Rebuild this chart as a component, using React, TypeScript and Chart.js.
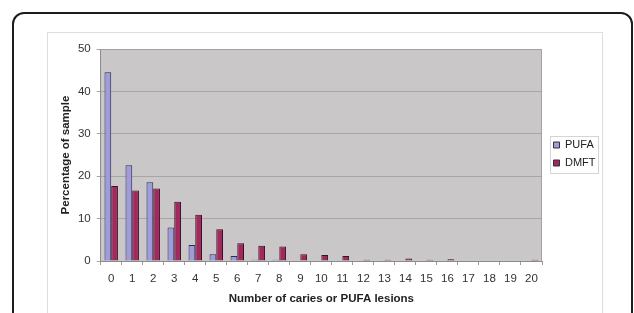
import React, { useEffect, useRef } from 'react';
import { Chart, registerables } from 'chart.js';

Chart.register(...registerables);

const categories = ['0', '1', '2', '3', '4', '5', '6', '7', '8', '9', '10', '11', '12', '13', '14', '15', '16', '17', '18', '19', '20'];
const pufaValues = [44.5, 22.6, 18.6, 7.9, 3.8, 1.6, 1.2, 0.3, 0.3, 0, 0, 0, 0, 0, 0, 0, 0, 0, 0, 0, 0];
const dmftValues = [17.7, 16.6, 17.1, 14.0, 10.9, 7.5, 4.2, 3.6, 3.4, 1.6, 1.4, 1.2, 0.3, 0.3, 0.6, 0.3, 0.4, 0, 0, 0, 0.3];
const seriesLabels = ['PUFA', 'DMFT'];
const yMin = 0;
const yMax = 50;
const yStep = 10;

const FONT = '"Liberation Sans", Arial, sans-serif';

const plotBgPlugin = {
  id: 'plotBg',
  beforeDraw(chart: any) {
    const { ctx, chartArea } = chart;
    if (!chartArea) return;
    ctx.save();
    ctx.fillStyle = '#c9c7c7';
    ctx.fillRect(chartArea.left, chartArea.top, chartArea.right - chartArea.left, chartArea.bottom - chartArea.top);
    ctx.restore();
  },
  afterDraw(chart: any) {
    const { ctx, chartArea } = chart;
    if (!chartArea) return;
    ctx.save();
    ctx.strokeStyle = '#a3a1a1';
    ctx.lineWidth = 1;
    ctx.beginPath();
    ctx.moveTo(chartArea.left, Math.round(chartArea.top) + 0.5);
    ctx.lineTo(chartArea.right, Math.round(chartArea.top) + 0.5);
    ctx.moveTo(Math.round(chartArea.right) - 0.5, chartArea.top);
    ctx.lineTo(Math.round(chartArea.right) - 0.5, chartArea.bottom);
    ctx.stroke();
    // legend frame
    const cy = (chartArea.top + chartArea.bottom) / 2;
    const lx = Math.round(chartArea.right + 8) + 0.5;
    const ly = Math.round(cy - 19) + 0.5;
    ctx.strokeStyle = '#d4d4d4';
    ctx.strokeRect(lx, ly, 48, 37);
    ctx.restore();
  },
};

const legendPlacePlugin = {
  id: 'legendPlace',
  afterLayout(chart: any) {
    const lg = chart.legend;
    const ca = chart.chartArea;
    if (!lg || !ca) return;
    const w = lg.width;
    lg.left = ca.right + 4.5;
    lg.right = lg.left + w;
    lg.top = ca.top - 1;
    lg.bottom = ca.bottom - 1;
  },
};

export default function App() {
  const canvasRef = useRef<HTMLCanvasElement | null>(null);

  useEffect(() => {
    if (!canvasRef.current) return;
    const chart = new Chart(canvasRef.current, {
      type: 'bar',
      data: {
        labels: categories,
        datasets: [
          {
            label: seriesLabels[0],
            data: pufaValues,
            backgroundColor: '#9e9cdc',
            borderColor: '#2e2a4a',
            borderWidth: 1,
            categoryPercentage: 0.64,
            barPercentage: 1.0,
          },
          {
            label: seriesLabels[1],
            data: dmftValues,
            backgroundColor: '#a02a5e',
            borderColor: '#3a1022',
            borderWidth: 1,
            categoryPercentage: 0.64,
            barPercentage: 1.0,
          },
        ],
      },
      options: {
        responsive: false,
        animation: false,
        devicePixelRatio: 1,
        layout: { padding: { left: 52, right: 42, top: 49, bottom: 0 } },
        plugins: {
          tooltip: { enabled: false },
          legend: {
            position: 'right',
            maxWidth: 50,
            labels: {
              boxWidth: 6,
              boxHeight: 6,
              padding: 7,
              color: '#222',
              font: { family: FONT, size: 11 },
              generateLabels: (c: any) =>
                c.data.datasets.map((ds: any, i: number) => ({
                  text: ds.label,
                  fillStyle: ds.backgroundColor,
                  strokeStyle: '#333',
                  lineWidth: 1,
                  hidden: false,
                  datasetIndex: i,
                  fontColor: '#222',
                })),
            },
          },
        },
        scales: {
          x: {
            offset: true,
            grid: {
              offset: true,
              drawOnChartArea: false,
              drawTicks: true,
              tickLength: 4,
              color: '#9a9a9a',
            },
            border: { display: true, color: '#8c8c8c' },
            ticks: {
              color: '#333',
              padding: 7,
              maxRotation: 0,
              autoSkip: false,
              font: { family: FONT, size: 11.5 },
            },
            title: {
              display: true,
              text: 'Number of caries or PUFA lesions',
              color: '#222',
              font: { family: FONT, size: 11.5, weight: 'bold' },
              padding: { top: 4, bottom: 7 },
            },
            afterFit: (scale: any) => {
              scale.height = 52;
            },
          },
          y: {
            min: yMin,
            max: yMax,
            ticks: {
              stepSize: yStep,
              color: '#333',
              padding: 6,
              font: { family: FONT, size: 11.5 },
            },
            grid: {
              color: '#a9a5a6',
              tickLength: 4,
            },
            border: { display: true, color: '#8c8c8c' },
            title: {
              display: true,
              text: 'Percentage of sample',
              color: '#222',
              font: { family: FONT, size: 11.5, weight: 'bold' },
              padding: { top: 7, bottom: 0 },
            },
            afterFit: (scale: any) => {
              scale.width = 48.7;
            },
          },
        },
      },
      plugins: [plotBgPlugin, legendPlacePlugin],
    });
    return () => chart.destroy();
  }, []);

  return (
    <div style={{ position: 'fixed', left: 0, top: 0, width: 634, height: 313, background: '#fff', overflow: 'hidden' }}>
      <div
        style={{
          position: 'absolute',
          left: 12,
          top: 12,
          width: 621,
          height: 400,
          border: '2px solid #1c1c1c',
          borderRadius: 12,
          boxSizing: 'border-box',
        }}
      />
      <div
        style={{
          position: 'absolute',
          left: 47,
          top: 32,
          width: 556,
          height: 400,
          border: '1px solid #dedede',
          boxSizing: 'border-box',
        }}
      />
      <canvas
        ref={canvasRef}
        width={634}
        height={313}
        style={{ position: 'absolute', left: 0, top: 0, width: 634, height: 313 }}
      />
    </div>
  );
}
